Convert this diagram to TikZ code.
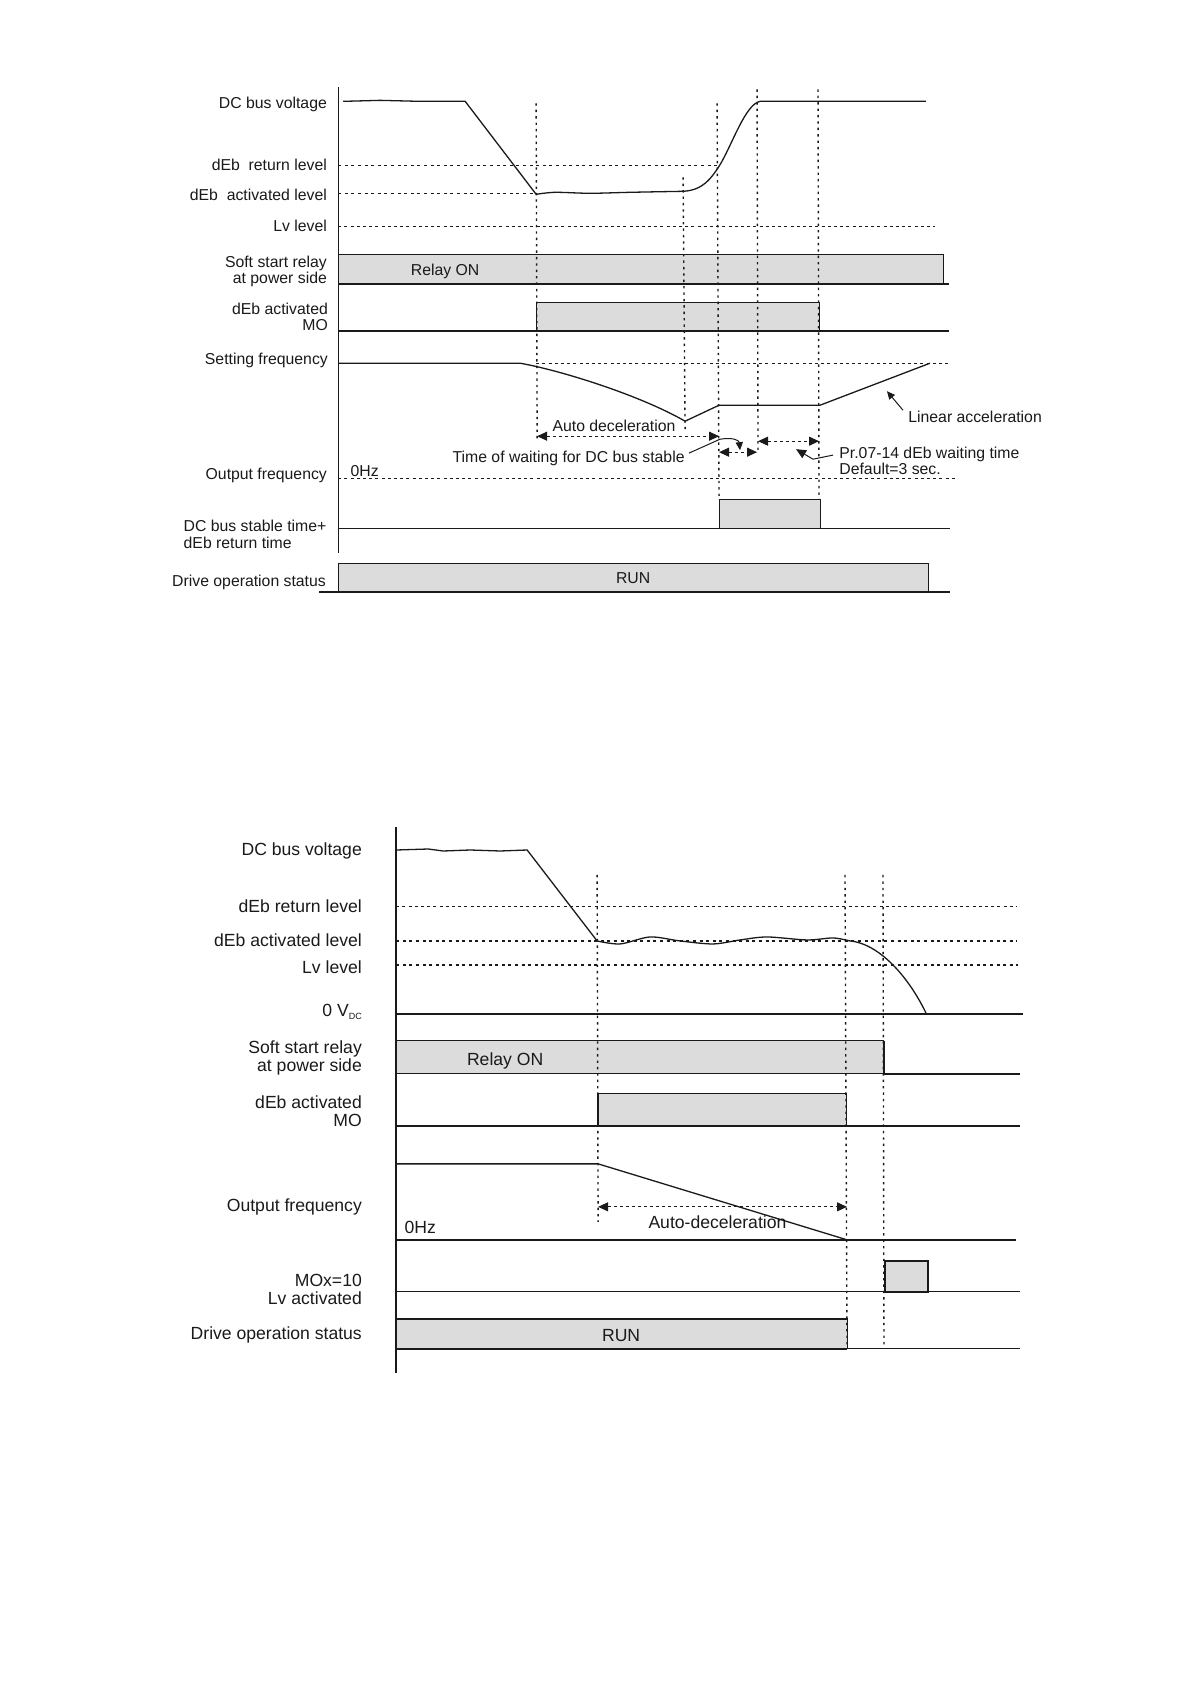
\documentclass[tikz,border=0pt]{standalone}
\usepackage{fontspec}
\setmainfont{Liberation Sans}
\usetikzlibrary{arrows.meta}
\definecolor{boxgray}{HTML}{DCDCDC}
\definecolor{ink}{HTML}{1A1A1A}
\newcommand\fTop{\fontsize{7.9}{9}\selectfont}
\newcommand\fBot{\fontsize{8.8}{10}\selectfont}
\begin{document}
\begin{tikzpicture}[x=0.5pt,y=-0.5pt,
  every path/.style={draw=ink},
  tl/.style={font=\fTop, inner sep=0pt, text=ink},
  bl/.style={font=\fBot, inner sep=0pt, text=ink},
  boxf/.style={fill=boxgray, draw=ink, line width=0.5pt},
  baseln/.style={line width=1.1pt},
  thinln/.style={line width=0.5pt},
  sig/.style={line width=0.65pt},
  vdot/.style={line width=0.7pt, dash pattern=on 1.2pt off 2pt},
  hdot/.style={line width=0.8pt, dash pattern=on 1.5pt off 1.8pt},
  hdash/.style={line width=0.5pt, dash pattern=on 1.5pt off 1.6pt},
  tip/.style={-{Triangle[length=5pt,width=4.5pt]}},
  smalltip/.style={-{Triangle[length=4pt,width=3.6pt]}},
  darr/.style={line width=0.5pt, dash pattern=on 1.5pt off 1.5pt, {Triangle[length=5pt,width=4.5pt]}-{Triangle[length=5pt,width=4.5pt]}}
]
\useasboundingbox (0,0) rectangle (1191,1684);
\fill[white, draw=none] (0,0) rectangle (1191,1684);

% ================= TOP DIAGRAM =================
% level lines
\draw[hdot] (338,165) -- (717,165);
\draw[hdot] (338,193) -- (536,193);
\draw[hdash] (338,226) -- (935,226);
% boxes
\draw[boxf] (338,254) rectangle (944,284);
\draw[baseln] (338,284) -- (949,284);
\draw[boxf] (536,331) -- (536,302) -- (819,302) -- (819,331);
\draw[baseln] (338,331) -- (949,331);
\draw[hdash] (536,363) -- (950,363);
\draw[hdash] (338,478) -- (955,478);
\draw[boxf] (719,528) rectangle (820,499);
\draw[thinln] (338,528) -- (950,528);
\draw[boxf] (338,563) rectangle (929,592);
\draw[baseln] (319,592) -- (950,592);
% axis
\draw[line width=0.7pt] (338,87) -- (338,553);
% vertical dotted lines
\draw[vdot] (536,103) -- (537,440);
\draw[vdot] (683,177) -- (685,430);
\draw[vdot] (717,103) -- (719,499);
\draw[vdot] (757,89) -- (758,452);
\draw[vdot] (818,89) -- (819,499);
% DC bus voltage
\draw[sig] (343,101) -- (380,100) -- (420,101) -- (465,101) -- (536,194);
\draw[sig] plot[smooth] coordinates {(536,194) (555,192) (590,193) (630,192) (683,191)};
\draw[sig] (683,191) .. controls (703,190) and (711,178) .. (719,166)
   .. controls (732,145) and (745,104) .. (760,101) -- (926,101);
% setting / output frequency
\draw[sig] (338,363) -- (520,363) .. controls (560,370) and (640,395) .. (685,421)
   -- (719,405) -- (820,405) -- (930,363);
% annotations
\coordinate (laTail) at (903,410);
\coordinate (laTip) at (887,391);
\draw[thinln, smalltip] (laTail) -- (laTip);
\coordinate (adL) at (537,436);
\coordinate (adR) at (719,436);
\draw[darr] (adL) -- (adR);
\coordinate (w1L) at (719,452);
\coordinate (w1R) at (757,452);
\draw[darr] (w1L) -- (w1R);
\coordinate (w2L) at (758,441);
\coordinate (w2R) at (819,441);
\draw[darr] (w2L) -- (w2R);

\node[tl, anchor=base east] (tDC) at (327,108) {DC bus voltage};
\node[tl, anchor=base east] (tRet) at (327,170) {dEb\ \ return level};
\node[tl, anchor=base east] (tAct) at (327,200) {dEb\ \ activated level};
\node[tl, anchor=base east] (tLv) at (327,231) {Lv level};
\node[tl, anchor=base east] (tSoftA) at (327,267) {Soft start relay};
\node[tl, anchor=base east] (tSoftB) at (327,283) {at power side};
\node[tl, anchor=base east] (tMoA) at (328,314) {dEb activated};
\node[tl, anchor=base east] (tMoB) at (328,330) {MO};
\node[tl, anchor=base east] (tSet) at (328,364) {Setting frequency};
\node[tl, anchor=base east] (tOut) at (327,479) {Output frequency};
\node[tl, anchor=base west] (tStA) at (183,531) {DC bus stable time+};
\node[tl, anchor=base west] (tStB) at (183,548) {dEb return time};
\node[tl, anchor=base east] (tDrv) at (326,586) {Drive operation status};
\node[tl, anchor=base] (tRelay) at (445,275) {Relay ON};
\node[tl, anchor=base] (tRun) at (633,583) {RUN};
\node[tl, anchor=base west] (t0Hz) at (350,476) {0Hz};
\node[tl, anchor=base west] (tAuto) at (552,431) {Auto deceleration};
\node[tl, anchor=base west] (tWait) at (452,462) {Time of waiting for DC bus stable};
\node[tl, anchor=base west] (tLin) at (908,422) {Linear acceleration};
\node[tl, anchor=base west] (tPrA) at (839,458) {Pr.07-14 dEb waiting time};
\node[tl, anchor=base west] (tPrB) at (839,474) {Default=3 sec.};

\coordinate (waitMid) at (720,439);
\coordinate (waitTip) at (740,450);
\draw[thinln, smalltip] (tWait.east) ++(4,-5) -- (waitMid) .. controls (733,437) and (739,440) .. (waitTip);
\coordinate (prKnee) at (813,459);
\coordinate (prTip) at (796,449);
\draw[thinln, tip] (tPrA.west) ++(-6,1) -- (prKnee) -- (prTip);

% ================= BOTTOM DIAGRAM =================
\draw[hdash] (396,907) -- (1017,907);
\draw[hdot] (396,941) -- (1017,941);
\draw[hdot] (396,965) -- (1018,965);
\draw[baseln] (396,1014) -- (1023,1014);
\draw[boxf] (396,1041) rectangle (884,1074);
\draw[line width=0.9pt] (884,1041) -- (884,1074);
\draw[baseln] (884,1074) -- (1020,1074);
\draw[boxf] (598,1126) -- (598,1094) -- (846,1094) -- (846,1126);
\draw[line width=0.9pt] (598,1094) -- (598,1126);
\draw[baseln] (396,1126) -- (1020,1126);
\draw[sig] (396,1164) -- (598,1164) -- (847,1240);
\draw[baseln] (396,1240) -- (1016,1240);
\draw[thinln] (396,1292) -- (1020,1292);
\draw[boxf, line width=0.9pt] (885,1292) rectangle (928,1261);
\draw[thinln] (396,1349) -- (1020,1349);
\draw[boxf] (396,1319) rectangle (847,1349);
\draw[line width=0.9pt] (396,1319) -- (847,1319);
\draw[line width=0.9pt] (396,1349) -- (847,1349);
% axis
\draw[line width=0.8pt] (396,827) -- (396,1373);
% vertical dotted
\draw[vdot] (597,875) -- (598,1222);
\draw[vdot] (845,875) -- (847,1345);
\draw[vdot] (883,875) -- (884,1348);
% DC bus voltage
\draw[sig] (396,850) -- (428,849) -- (443,851) -- (470,850) -- (500,851) -- (527,850) -- (597,941);
\draw[sig] plot[smooth] coordinates {(597,941) (620,944) (650,937) (680,941) (713,944) (740,940) (767,937) (807,940) (833,938) (850,941)};
\draw[sig] (850,941) .. controls (875,943) and (905,970) .. (926,1013);
% arrow
\coordinate (bdL) at (598,1207);
\coordinate (bdR) at (847,1207);
\draw[darr] (bdL) -- (bdR);

\node[bl, anchor=base east] (bDC) at (362,856) {DC bus voltage};
\node[bl, anchor=base east] (bRet) at (362,913) {dEb return level};
\node[bl, anchor=base east] (bAct) at (362,947) {dEb activated level};
\node[bl, anchor=base east] (bLv) at (362,974) {Lv level};
\node[bl, anchor=base east] (bZero) at (362,1017) {0 V{\fontsize{4.5}{5}\selectfont\raisebox{-1.2pt}{DC}}};
\node[bl, anchor=base east] (bSoftA) at (362,1054) {Soft start relay};
\node[bl, anchor=base east] (bSoftB) at (362,1072) {at power side};
\node[bl, anchor=base east] (bMoA) at (362,1109) {dEb activated};
\node[bl, anchor=base east] (bMoB) at (362,1127) {MO};
\node[bl, anchor=base east] (bOut) at (362,1212) {Output frequency};
\node[bl, anchor=base east] (bMoxA) at (362,1287) {MOx=10};
\node[bl, anchor=base east] (bMoxB) at (362,1305) {Lv activated};
\node[bl, anchor=base east] (bDrv) at (362,1340) {Drive operation status};
\node[bl, anchor=base] (bRelay) at (505,1066) {Relay ON};
\node[bl, anchor=base] (bRun) at (621,1342) {RUN};
\node[bl, anchor=base west] (b0Hz) at (404,1234) {0Hz};
\node[bl, anchor=base west] (bAuto) at (648,1229) {Auto-deceleration};
\end{tikzpicture}
\end{document}
